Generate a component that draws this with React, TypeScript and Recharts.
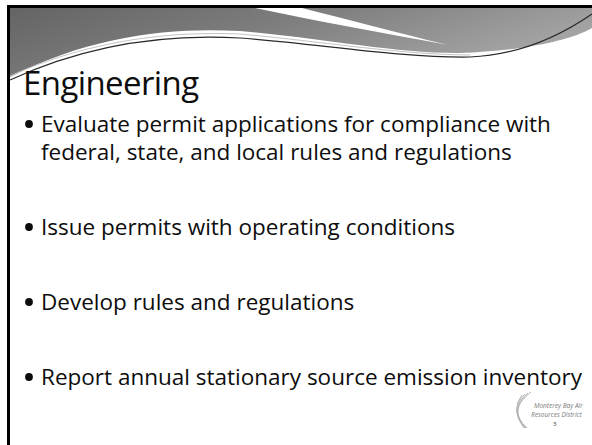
import { ScatterChart, Scatter, XAxis, YAxis, Customized } from 'recharts';

const W = 592;
const H = 445;

const titleText = 'Engineering';
const bulletItems: string[][] = [
  ['Evaluate permit applications for compliance with', 'federal, state, and local rules and regulations'],
  ['Issue permits with operating conditions'],
  ['Develop rules and regulations'],
  ['Report annual stationary source emission inventory'],
];
const logoLines = ['Monterey Bay Air', 'Resources District'];
const slideNumber = '3';

// layout (slide pixels)
const FONT = '"Open Sans", "Noto Sans", sans-serif';
const TITLE_X = 23;
const TITLE_BASELINE = 95;
const TEXT_X = 41;
const FIRST_BASELINE = 132;
const LINE_STEP = 28;
const PARA_STEP = 75;

const titleData = [{ x: TITLE_X, y: TITLE_BASELINE, text: titleText }];

const lineData: { x: number; y: number; text: string; bullet: boolean }[] = [];
let baseline = FIRST_BASELINE;
bulletItems.forEach((lines) => {
  lines.forEach((text, i) => {
    lineData.push({ x: TEXT_X, y: baseline, text, bullet: i === 0 });
    if (i < lines.length - 1) baseline += LINE_STEP;
  });
  baseline += PARA_STEP;
});

const renderTitle = (props: any) => (
  <text x={props.cx} y={props.cy} fontFamily={FONT} fontSize={33} letterSpacing={-0.6} fill="#0d0d0d">
    {props.payload.text}
  </text>
);

const renderLine = (props: any) => {
  const { cx, cy, payload } = props;
  return (
    <g>
      {payload.bullet && <circle cx={cx - 12} cy={cy - 8} r={3.9} fill="#0d0d0d" />}
      <text x={cx} y={cy} fontFamily={FONT} fontSize={22.5} fill="#0d0d0d">
        {payload.text}
      </text>
    </g>
  );
};

function SlideBackground() {
  return (
    <g>
      <defs>
        <linearGradient id="band" x1="0" y1="0" x2="1" y2="0.4">
          <stop offset="0%" stopColor="#646464" />
          <stop offset="45%" stopColor="#7c7c7c" />
          <stop offset="100%" stopColor="#a6a6a6" />
        </linearGradient>
      </defs>
      <rect x={0} y={0} width={W} height={H} fill="#fff" />
      {/* gray header band */}
      <path
        d="M10 8 L592 8 L592 28 C570 41 520 51 460 53 C400 54 320 38 240 31 C170 27 90 36 10 77 Z"
        fill="url(#band)"
      />
      {/* white streak */}
      <path d="M255 8 L302 8 C345 19 395 32 448 45 C385 33 320 22 255 8 Z" fill="#fff" />
      {/* swoosh lines */}
      <path d="M10 80 C90 43 170 34 240 38 C320 44 400 58 470 57 C520 55 560 36 592 14" fill="none" stroke="#2a2a2a" strokeWidth={1.2} />
      <path d="M10 76 C90 40 170 31 240 34 C320 41 400 55 470 55" fill="none" stroke="#c4c4c4" strokeWidth={1} />
      {/* frame */}
      <rect x={7} y={5} width={W - 7} height={3} fill="#000" />
      <rect x={7} y={5} width={3} height={H - 5} fill="#000" />
      {/* logo */}
      {[0, 1, 2, 3].map((i) => (
        <path
          key={i}
          d={`M${531 - i * 3} ${392 + i} Q${507 + i} ${410} ${527 - i} ${428}`}
          fill="none"
          stroke="#b5b5b5"
          strokeWidth={1}
        />
      ))}
      <text x={534} y={408} fontFamily={FONT} fontSize={6.5} fontStyle="italic" fill="#7a7a7a">
        {logoLines[0]}
      </text>
      <text x={531} y={417} fontFamily={FONT} fontSize={6.5} fontStyle="italic" fill="#7a7a7a">
        {logoLines[1]}
      </text>
      <text x={553} y={426} fontFamily={FONT} fontSize={6} fill="#333">
        {slideNumber}
      </text>
    </g>
  );
}

export default function App() {
  return (
    <div style={{ position: 'absolute', left: 0, top: 0, width: W, height: H, background: '#fff' }}>
      <ScatterChart width={W} height={H} margin={{ top: 0, right: 0, bottom: 0, left: 0 }}>
        <XAxis type="number" dataKey="x" domain={[0, W]} allowDataOverflow hide />
        <YAxis type="number" dataKey="y" domain={[0, H]} allowDataOverflow reversed hide />
        <Customized component={SlideBackground} />
        <Scatter data={titleData} shape={renderTitle} isAnimationActive={false} />
        <Scatter data={lineData} shape={renderLine} isAnimationActive={false} />
      </ScatterChart>
    </div>
  );
}
